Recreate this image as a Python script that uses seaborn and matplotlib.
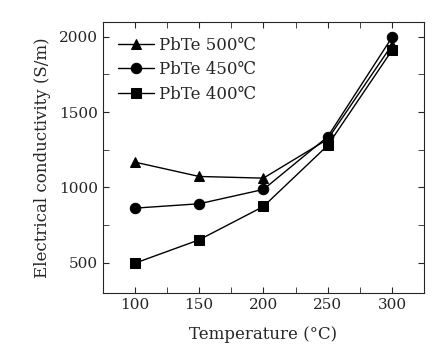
import numpy as np
import pandas as pd
import matplotlib
matplotlib.use('Agg')
import matplotlib.pyplot as plt
import seaborn as sns
from matplotlib.ticker import MultipleLocator

temperature = [100, 150, 200, 250, 300]
pbte_500 = [1168, 1073, 1062, 1320, 1945]
pbte_450 = [863, 892, 987, 1337, 1995]
pbte_400 = [498, 653, 874, 1279, 1909]
series_labels = ['PbTe 500℃', 'PbTe 450℃', 'PbTe 400℃']

df = pd.DataFrame({
    'Temperature': temperature * 3,
    'Conductivity': pbte_500 + pbte_450 + pbte_400,
    'Sample': [s for s in series_labels for _ in temperature],
})

sns.set_style('ticks')
plt.rcParams['font.family'] = ['DejaVu Serif', 'Noto Sans CJK KR']

fig = plt.figure(figsize=(4.45, 3.6), dpi=100)
ax = fig.add_axes([0.231, 0.186, 0.722, 0.754])

sns.lineplot(
    data=df, x='Temperature', y='Conductivity',
    hue='Sample', style='Sample', hue_order=series_labels, style_order=series_labels,
    palette=['black'] * 3, markers=['^', 'o', 's'], dashes=False,
    markersize=7.5, linewidth=1.0, markeredgecolor='black', ax=ax,
)

ax.set_xlim(75, 325)
ax.set_ylim(300, 2100)
ax.xaxis.set_major_locator(MultipleLocator(50))
ax.xaxis.set_minor_locator(MultipleLocator(25))
ax.yaxis.set_major_locator(MultipleLocator(500))
ax.yaxis.set_minor_locator(MultipleLocator(250))
ax.tick_params(which='both', direction='in', top=True, right=True, labelsize=11)
ax.tick_params(which='major', length=4)
ax.tick_params(which='minor', length=4)
for s in ax.spines.values():
    s.set_linewidth(0.8)

ax.set_xlabel('Temperature (°C)', fontsize=12, labelpad=10)
ax.set_ylabel('Electrical conductivity (S/m)', fontsize=12, labelpad=6)

ax.legend(frameon=False, loc='upper left', fontsize=12, handlelength=2.2,
          handletextpad=0.3, labelspacing=0.45, borderaxespad=0.5)

fig.savefig('out.png', dpi=100)
